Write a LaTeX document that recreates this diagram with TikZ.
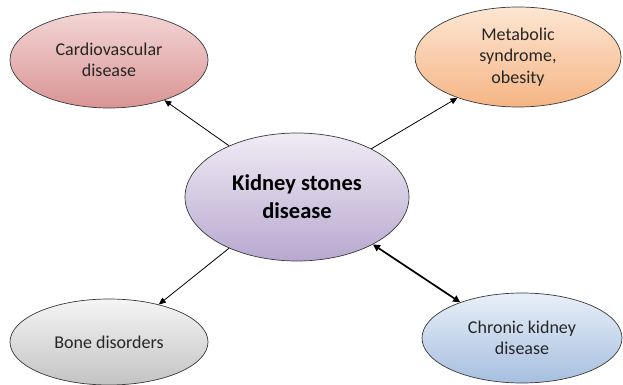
\documentclass[tikz,border=0pt]{standalone}
\usepackage{fontspec}
\setmainfont{Carlito}
\usetikzlibrary{shapes.geometric,arrows.meta}
\definecolor{cardT}{HTML}{F4D6D6}
\definecolor{cardB}{HTML}{D99494}
\definecolor{metaT}{HTML}{FDE6D3}
\definecolor{metaB}{HTML}{F5B584}
\definecolor{kidT}{HTML}{F0ECF5}
\definecolor{kidB}{HTML}{B8A8D0}
\definecolor{boneT}{HTML}{F5F5F5}
\definecolor{boneB}{HTML}{C3C3C3}
\definecolor{ckdT}{HTML}{E8EFF8}
\definecolor{ckdB}{HTML}{A6BFDF}
\definecolor{txt}{HTML}{262626}
\definecolor{edge}{HTML}{3A3A3A}
\tikzset{
  oval/.style={ellipse, draw=edge, line width=0.7pt, inner sep=0pt, align=center,
    text=txt, font=\fontsize{18}{21.5}\selectfont},
  bigoval/.style={oval, text=black, font=\bfseries\fontsize{22.5}{28}\selectfont},
  link/.style={draw=black, line width=0.8pt, -{Triangle[length=7pt,width=6pt]}},
  biglink/.style={draw=black, line width=1.7pt, {Triangle[length=7pt,width=7pt]}-{Triangle[length=7pt,width=7pt]}}
}
\begin{document}
\begin{tikzpicture}[x=1pt,y=1pt]
\useasboundingbox (0,0) rectangle (623,385);
\node[oval, top color=cardT, bottom color=cardB, minimum width=198pt, minimum height=96pt] (card) at (109,325) {Cardiovascular\\disease};
\node[oval, top color=metaT, bottom color=metaB, minimum width=206pt, minimum height=100pt] (meta) at (518,328) {Metabolic\\syndrome,\\obesity};
\node[bigoval, top color=kidT, bottom color=kidB, minimum width=224pt, minimum height=128pt] (kid) at (297,188) {Kidney stones\\disease};
\node[oval, top color=boneT, bottom color=boneB, minimum width=198pt, minimum height=86pt] (bone) at (109,43) {Bone disorders};
\node[oval, top color=ckdT, bottom color=ckdB, minimum width=200pt, minimum height=90pt] (ckd) at (522,47) {Chronic kidney\\disease};
\draw[link] (kid.143) -- (card.-36);
\draw[link] (kid.33) -- (meta.214);
\draw[link] (kid.217) -- (bone.37);
\draw[biglink] (kid.-32) -- (ckd.150);
\end{tikzpicture}
\end{document}
